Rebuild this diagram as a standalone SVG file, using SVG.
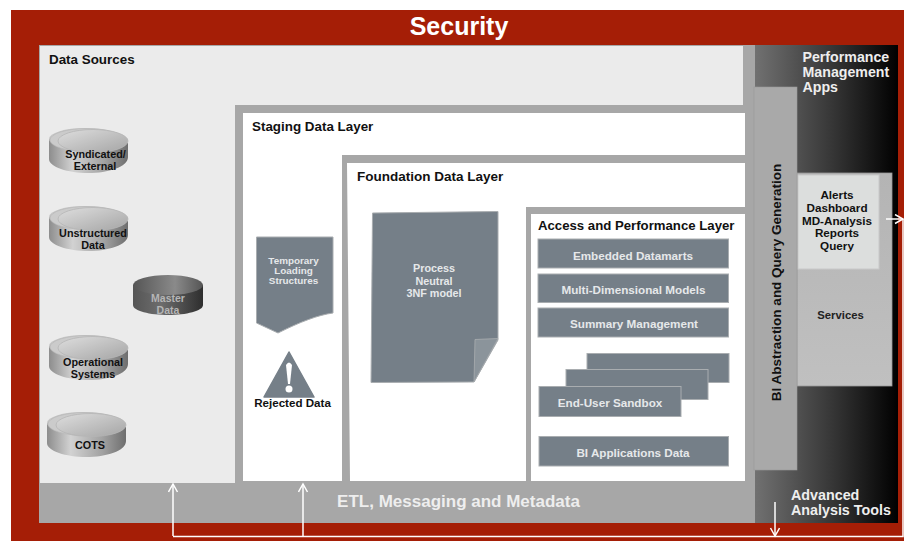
<svg xmlns="http://www.w3.org/2000/svg" width="913" height="541" viewBox="0 0 913 541">
<style>
text{font-family:"Liberation Sans",Arial,sans-serif;font-weight:700}
.h{font-size:13.400px;fill:#111}
.c{text-anchor:middle}
.w{fill:#e6e8ea}
.s{font-size:11.700px}
.k{font-size:10.800px;fill:#111;text-anchor:middle}
.card{fill:#757f88;stroke:#a9adb0;stroke-width:1}
.wire{fill:none;stroke:#fff;stroke-width:1.5}
.hl{fill:#fff}
.d1{fill:url(#cyl)}
.d2{fill:url(#top);stroke:#b5b5b5;stroke-width:.8}
</style>
<defs>
<linearGradient id="dark" x1="0" x2="1" y1="0" y2="0"><stop offset="0" stop-color="#717171"/><stop offset=".55" stop-color="#353535"/><stop offset="1" stop-color="#000"/></linearGradient>
<linearGradient id="cyl" x1="0" x2="1" y1="0" y2="0"><stop offset="0" stop-color="#8d8d8d"/><stop offset=".3" stop-color="#d2d2d2"/><stop offset=".7" stop-color="#a2a2a2"/><stop offset="1" stop-color="#6e6e6e"/></linearGradient>
<linearGradient id="top" x1="0" x2="1" y1="0" y2="1"><stop offset="0" stop-color="#dedede"/><stop offset="1" stop-color="#a5a5a5"/></linearGradient>
<linearGradient id="mcyl" x1="0" x2="1" y1="0" y2="0"><stop offset="0" stop-color="#555"/><stop offset=".4" stop-color="#6d6d6d"/><stop offset="1" stop-color="#2e2e2e"/></linearGradient>
<linearGradient id="mtop" x1="0" x2="1" y1="0" y2="0"><stop offset="0" stop-color="#555"/><stop offset=".6" stop-color="#8a8a8a"/><stop offset="1" stop-color="#555"/></linearGradient>
<linearGradient id="svc" x1="0" x2="0" y1="0" y2="1"><stop offset="0" stop-color="#b4b4b4"/><stop offset="1" stop-color="#c0c0c0"/></linearGradient>
<marker id="ah" markerWidth="12" markerHeight="12" refX="9" refY="5" orient="auto" markerUnits="userSpaceOnUse"><path d="M1 .5L9 5L1 9.5" fill="none" stroke="#fff" stroke-width="1.5"/></marker>
<g id="stack">
<path class="d1" d="M-39-10V10C-39 18-20 24 0 24S40 18 40 8V-6Z"/>
<ellipse cx="-3" cy="-10" rx="36" ry="11" fill="#c6c6c6"/>
<ellipse cx="-1" cy="-9" rx="37" ry="11.500" fill="#cbcbcb" stroke="#b5b5b5" stroke-width=".6"/>
<ellipse cx="5" cy="-8" rx="35" ry="11.500" class="d2"/>
</g>
</defs>

<rect id="security-bg" x="11" y="10" width="893" height="531" fill="#a51e06"/>
<rect x="904" y="10" width="9" height="531" fill="#fff"/>
<text x="459" y="35" class="c" font-size="25" fill="#fff">Security</text>

<g id="etl">
<rect x="39" y="45" width="716" height="478" fill="#a7a7a7"/>
<text x="458.500" y="507" class="c" font-size="17" fill="#eee">ETL, Messaging and Metadata</text>
</g>

<g id="data-sources">
<rect x="40" y="46" width="703" height="437" fill="#ebebeb"/>
<text x="49" y="64" class="h">Data Sources</text>
</g>

<g id="syndicated"><use href="#stack" x="88" y="149"/><text x="95.500" y="158" class="k">Syndicated/</text><text x="95" y="170" class="k">External</text></g>
<g id="unstructured"><use href="#stack" x="88" y="227"/><text x="93" y="237" class="k">Unstructured</text><text x="93" y="249" class="k">Data</text></g>
<g id="operational"><use href="#stack" x="88" y="356"/><text x="93" y="366" class="k">Operational</text><text x="93" y="378" class="k">Systems</text></g>
<g id="cots"><use href="#stack" x="86" y="433"/><text x="90" y="449" class="k">COTS</text></g>
<g id="master-data">
<path d="M133 285V305C133 311 150 315 168 315S203 311 203 305V285Z" fill="url(#mcyl)"/>
<ellipse cx="168" cy="285" rx="35" ry="10" fill="url(#mtop)"/>
<text x="168" y="302" class="c" font-size="10.500" fill="#b5b5b5">Master</text>
<text x="168" y="314" class="c" font-size="10.500" fill="#b5b5b5">Data</text>
</g>

<g id="staging-layer">
<path d="M235 105H745V113H243V481H745V483H235Z" fill="#a7a7a7"/>
<rect x="243" y="113" width="502" height="368" fill="#fff"/>
<text x="252" y="131" class="h">Staging Data Layer</text>
</g>
<g id="temporary">
<path class="card" d="M256.500 237H333V313C318 315 300 322 278 333L256.500 323Z"/>
<text x="293.500" y="264" class="c w" font-size="9.900">Temporary</text>
<text x="293.500" y="274" class="c w" font-size="9.900">Loading</text>
<text x="293.500" y="284" class="c w" font-size="9.900">Structures</text>
</g>
<g id="rejected">
<path d="M289 352L314 397H264Z" fill="#757f88" stroke="#757f88" stroke-width="1.500" stroke-linejoin="round"/>
<path d="M286 365Q289 360 292 365L290 384H288Z" class="hl"/><circle cx="289" cy="389" r="3.500" class="hl"/>
<text x="292.500" y="407" class="c" font-size="11.600" fill="#111">Rejected Data</text>
</g>

<g id="foundation-layer">
<path d="M342 155H745V163H347L350 481H342Z" fill="#a7a7a7"/>
<text x="357" y="181" class="h" style="font-size:13.500px">Foundation Data Layer</text>
</g>
<g id="process-neutral">
<path class="card" d="M372.500 213L498 211.500V340L474 382L371 382.500Z"/>
<path d="M498 338.500L474 382L475 339.500Z" fill="#8b949b" stroke="#a9adb0" stroke-width=".8"/>
<text x="434" y="272" class="c w" font-size="10.800">Process</text>
<text x="434" y="285" class="c w" font-size="10.800">Neutral</text>
<text x="434" y="297" class="c w" font-size="10.800">3NF model</text>
</g>

<g id="access-layer">
<path d="M526 207H745V214H531V481H526Z" fill="#a7a7a7"/>
<text x="538" y="230" class="h" style="font-size:13.200px">Access and Performance Layer</text>
</g>
<g id="embedded"><rect class="card" x="538" y="239" width="190.500" height="29"/><text x="633" y="260" class="c w s">Embedded Datamarts</text></g>
<g id="multi-dim"><rect class="card" x="538" y="274" width="190.500" height="28.500"/><text x="633.500" y="293.500" class="c w s">Multi-Dimensional Models</text></g>
<g id="summary"><rect class="card" x="538" y="308" width="190.500" height="29"/><text x="634" y="328" class="c w s">Summary Management</text></g>
<g id="sandbox">
<rect class="card" x="587" y="353.500" width="142" height="29"/>
<rect class="card" x="566" y="369.500" width="142" height="30"/>
<rect class="card" x="539" y="386.500" width="142" height="30"/>
<text x="610" y="407" class="c w s">End-User Sandbox</text>
</g>
<g id="bi-apps"><rect class="card" x="539" y="436.500" width="189.500" height="29.500"/><text x="633" y="457" class="c w s">BI Applications Data</text></g>

<g id="performance-apps">
<rect x="755" y="45" width="143" height="478" fill="url(#dark)"/>
<text x="802.500" y="62" font-size="14.200" fill="#eee">Performance</text>
<text x="802.500" y="77" font-size="14.200" fill="#eee">Management</text>
<text x="802.500" y="92" font-size="14.200" fill="#eee">Apps</text>
<text x="791" y="500" font-size="14.300" fill="#eee">Advanced</text>
<text x="791" y="515" font-size="14.300" fill="#eee">Analysis Tools</text>
</g>
<g id="services">
<rect x="797" y="173" width="95" height="213" fill="url(#svc)" stroke="#999" stroke-width=".8"/>
<text x="840.500" y="319" class="c" font-size="11.300" fill="#222">Services</text>
</g>
<g id="alerts">
<rect x="798" y="175" width="81" height="94" fill="#dcdedd" stroke="#c9c9c9"/>
<text x="837" y="199" class="c" font-size="11.700" fill="#111">Alerts</text>
<text x="837" y="212" class="c" font-size="11.700" fill="#111">Dashboard</text>
<text x="837" y="224.500" class="c" font-size="11.700" fill="#111">MD-Analysis</text>
<text x="837" y="237" class="c" font-size="11.700" fill="#111">Reports</text>
<text x="837" y="249.500" class="c" font-size="11.700" fill="#111">Query</text>
</g>
<g id="bi-abstraction">
<rect x="754" y="87" width="43" height="383" fill="#a9a9a9" stroke="#9a9a9a" stroke-width=".6"/>
<text transform="translate(781 282.500) rotate(-90)" class="c" font-size="13.500" fill="#111">BI Abstraction and Query Generation</text>
</g>

<g id="connectors">
<path class="wire" d="M173 536V484" marker-end="url(#ah)"/>
<path class="wire" d="M303 536V484" marker-end="url(#ah)"/>
<path class="wire" d="M173 536.500H903V219"/>
<path class="wire" d="M886 219H903" marker-end="url(#ah)"/>
<path class="wire" d="M775 502V536" marker-end="url(#ah)"/>
</g>
</svg>
